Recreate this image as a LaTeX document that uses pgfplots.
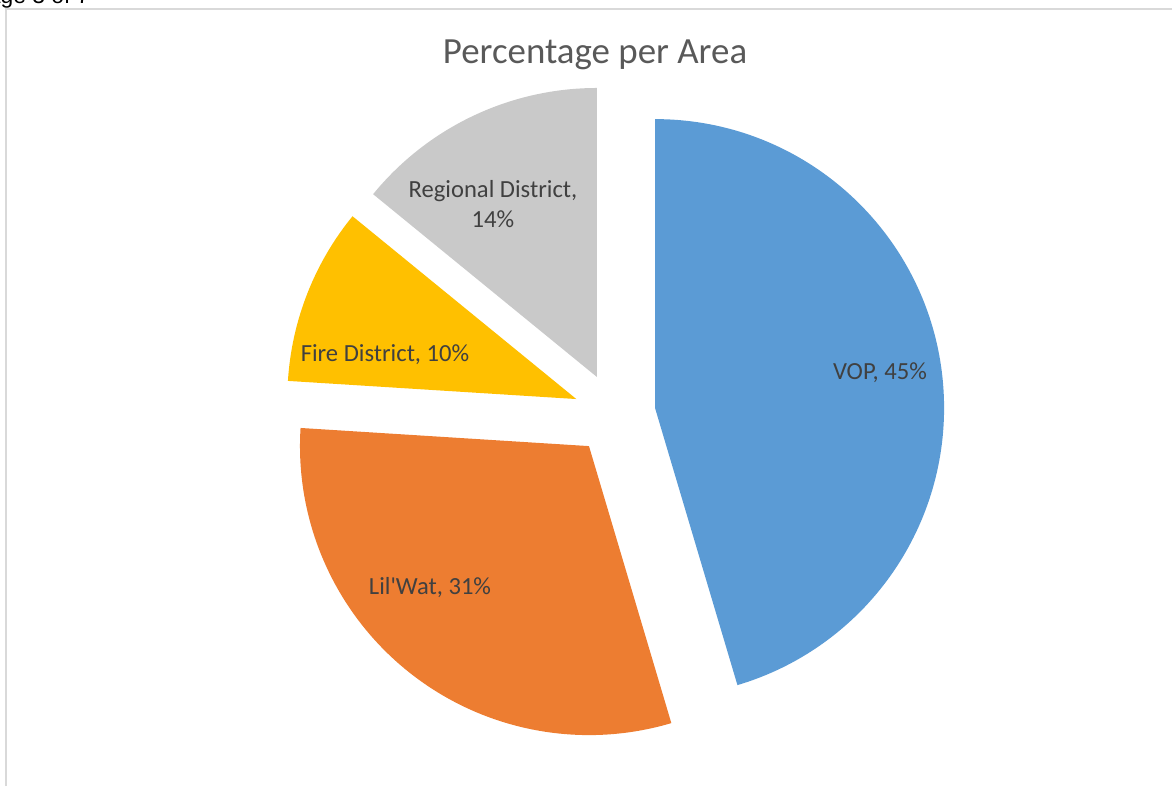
\documentclass[border=0pt]{standalone}
\usepackage{pgfplots}
\pgfplotsset{compat=1.18}
\usepackage{fontspec}
\setmainfont{Carlito}
\newfontfamily\pagefont{Liberation Sans}

\definecolor{vop}{HTML}{5B9BD5}
\definecolor{lilwat}{HTML}{ED7D31}
\definecolor{fire}{HTML}{FFC000}
\definecolor{regional}{HTML}{C9C9C9}
\definecolor{titlegray}{HTML}{595959}
\definecolor{labelgray}{HTML}{404040}
\definecolor{framegray}{HTML}{D9D9D9}

% shares in percent, clockwise from 12 o'clock
\def\pVOP{45.4}
\def\pLil{30.6}
\def\pFire{9.9}
\def\pReg{14.1}
\newcommand\pct[1]{\pgfmathprintnumber[fixed,precision=0,assume math mode=true]{#1}\%}

\begin{document}
\begin{tikzpicture}
% slice angles from the shares
\pgfmathsetmacro\aA{90}
\pgfmathsetmacro\aB{\aA-3.6*\pVOP}
\pgfmathsetmacro\aC{\aB-3.6*\pLil}
\pgfmathsetmacro\aD{\aC-3.6*\pFire}
\pgfmathsetmacro\aE{\aD-3.6*\pReg}
\pgfmathsetmacro\mA{(\aA+\aB)/2}
\pgfmathsetmacro\mB{(\aB+\aC)/2}
\pgfmathsetmacro\mC{(\aC+\aD)/2}
\pgfmathsetmacro\mD{(\aD+\aE)/2}
\def\R{2.89cm}
\def\X{0.41cm}
\begin{axis}[
    width=11.72cm, height=7.86cm, scale only axis,
    xmin=0, xmax=1172, ymin=0, ymax=786, y dir=reverse,
    hide axis, clip=true,
    at={(0,0)}, anchor=south west,
]
% exploded slices around the pie centre
\fill[vop] (axis cs:614.5,414) ++(\mA:\X) -- ++(\aA:\R)
    arc[start angle=\aA, end angle=\aB, radius=\R] -- cycle;
\fill[lilwat] (axis cs:614.5,414) ++(\mB:\X) -- ++(\aB:\R)
    arc[start angle=\aB, end angle=\aC, radius=\R] -- cycle;
\fill[fire] (axis cs:614.5,414) ++(\mC:\X) -- ++(\aC:\R)
    arc[start angle=\aC, end angle=\aD, radius=\R] -- cycle;
\fill[regional] (axis cs:614.5,414) ++(\mD:\X) -- ++(\aD:\R)
    arc[start angle=\aD, end angle=\aE, radius=\R] -- cycle;

% data labels
\begin{scope}[every node/.style={font=\fontsize{7}{8.5}\selectfont, text=labelgray, anchor=base, inner sep=0pt}]
\node at (axis cs:880,379) {VOP, \pct{\pVOP}};
\node at (axis cs:430,594) {Lil\textquotesingle Wat, \pct{\pLil}};
\node at (axis cs:385,361) {Fire District, \pct{\pFire}};
\node at (axis cs:493,197) {Regional District,};
\node at (axis cs:493,227) {\pct{\pReg}};
\end{scope}

% title
\node[anchor=base, inner sep=0pt, text=titlegray, font=\fontsize{10.5}{12}\selectfont]
    at (axis cs:595,63) {Percentage per Area};

% page frame and clipped page header
\draw[framegray, line width=0.55pt] (axis cs:6,786) -- (axis cs:6,9) -- (axis cs:1172,9);
\node[anchor=base west, inner sep=0pt, text=black, font=\pagefont\fontsize{6.5}{8}\selectfont]
    at (axis cs:-28,3) {Page 3 of 7};
\end{axis}
\pgfresetboundingbox
\useasboundingbox (current axis.south west) rectangle (current axis.north east);
\end{tikzpicture}
\end{document}
